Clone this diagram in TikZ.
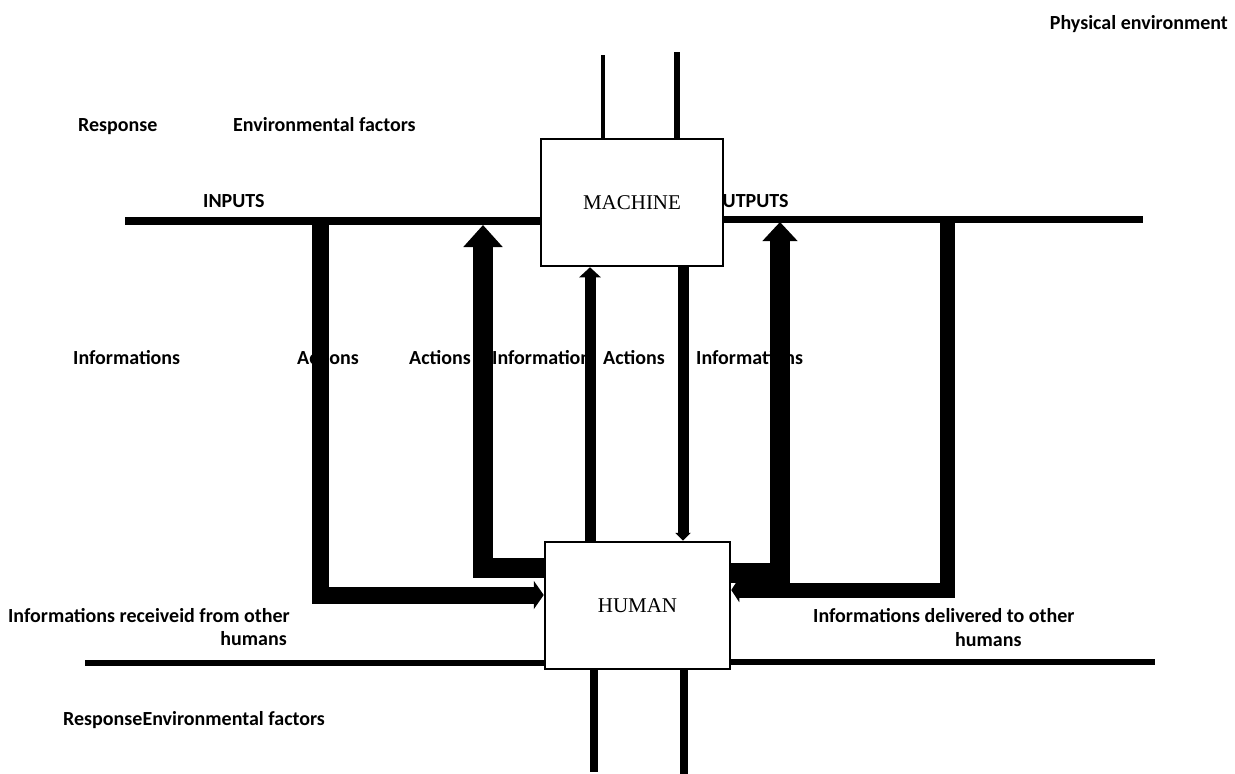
\documentclass[tikz,border=0pt]{standalone}
\usepackage{fontspec}
\newfontfamily\labfont{Carlito}
\newfontfamily\boxfont{Liberation Serif}
\usetikzlibrary{arrows.meta}
\begin{document}
\begin{tikzpicture}[x=1pt,y=-1pt,
  lab/.style={font=\labfont\bfseries\fontsize{20}{24}\selectfont,inner sep=0pt,anchor=base west,text=black},
  blockbox/.style={draw,line width=2.5pt,fill=white,minimum width=182pt,minimum height=127pt,inner sep=0pt,font=\boxfont\fontsize{21}{25}\selectfont},
  wire/.style={line width=#1,line join=miter,line cap=butt},
]
\useasboundingbox (0,0) rectangle (1235,774);
% labels
\node[lab,anchor=base east] (tPhys) at (1228,29) {Physical environment};
\node[lab] (tResp) at (78,131) {Response};
\node[lab] (tEnv) at (233,131) {Environmental factors};
\node[lab] (tIn) at (203,207) {INPUTS};
\node[lab] (tOut) at (709,207) {OUTPUTS};
\node[lab] (tInfoL) at (73,364) {Informations};
\node[lab] (tAct1) at (297,364) {Actions};
\node[lab] (tAct2) at (409,364) {Actions};
\node[lab] (tInfo2) at (492,364) {Information};
\node[lab] (tAct3) at (603,364) {Actions};
\node[lab] (tInfo3) at (696,364) {Informations};
\node[lab,anchor=base east] (tRecv1) at (290,622) {Informations receiveid from other};
\node[lab,anchor=base east] (tRecv2) at (287,645) {humans};
\node[lab] (tDel1) at (813,622) {Informations delivered to other};
\node[lab] (tDel2) at (955,646) {humans};
\node[lab] (tRE) at (63,725) {ResponseEnvironmental factors};
% boxes
\node[blockbox] (machine) at (632,202.5) {MACHINE};
\node[blockbox,minimum width=185pt] (human) at (637.5,605.5) {HUMAN};
% coordinates
\coordinate (inL) at (125,221);
\coordinate (outR) at (1143,219);
\coordinate (topA) at (603,55);
\coordinate (topB) at (677,52);
\coordinate (botL) at (85,663);
\coordinate (botR) at (1155,662);
\coordinate (botA) at (594,772);
\coordinate (botB) at (684,774);
% main lines
\draw[wire=8pt] (inL) -- (inL -| machine.west);
\draw[wire=7pt] (outR -| machine.east) -- (outR);
\draw[wire=4.5pt] (machine.north -| topA) -- (topA);
\draw[wire=6pt] (machine.north -| topB) -- (topB);
\draw[wire=6pt] (botL) -- (botL -| human.west);
\draw[wire=6pt] (botR -| human.east) -- (botR);
\draw[wire=8pt] (human.south -| botA) -- (botA);
\draw[wire=8pt] (human.south -| botB) -- (botB);
% left loops
\draw[wire=17pt,-{Triangle[length=10pt,width=28pt]}] (inL -| 320,0) -- (320,595) -- (human.west |- 0,595);
\draw[wire=20pt,-{Triangle[length=22pt,width=38pt]}] (human.west |- 0,568) -- (483,568) -- (483,225);
% middle
\draw[wire=11pt,-{Triangle[length=10pt,width=21pt]}] (human.north -| 590,0) -- (machine.south -| 590,0);
\draw[wire=11pt,-{Triangle[length=8pt,width=15pt]}] (machine.south -| 683,0) -- (human.north -| 683,0);
% right loops
\draw[wire=20pt,-{Triangle[length=19pt,width=34pt]}] (human.east |- 0,573) -- (780,573) -- (780,222);
\draw[wire=15pt,-{Triangle[length=8pt,width=24pt]}] (outR -| 947,0) -- (947,590) -- (human.east |- 0,590);
\end{tikzpicture}
\end{document}
